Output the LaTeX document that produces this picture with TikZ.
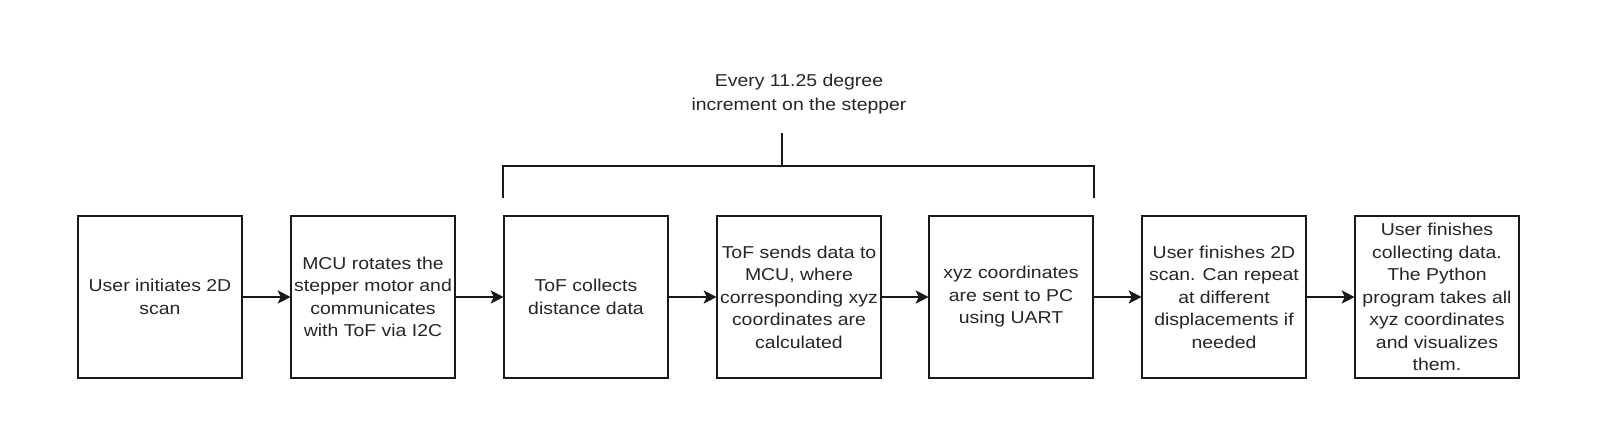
\documentclass[tikz,border=0pt]{standalone}
\usepackage{fontspec}
\setmainfont{Liberation Sans}[FakeStretch=1.13]
\usetikzlibrary{arrows.meta}
\definecolor{ink}{HTML}{1A1A1A}
\definecolor{txt}{HTML}{262626}
\begin{document}
\begin{tikzpicture}[x=1pt,y=-1pt,
  stepbox/.style={draw=ink,line width=1.6pt,minimum width=164pt,minimum height=162pt,
    inner sep=0pt,align=center,text=txt,font=\fontsize{17.2}{22.5}\selectfont},
  flow/.style={draw=ink,line width=1.6pt,shorten >=-0.5pt,-{Stealth[length=13pt,width=13pt,inset=3pt]}},
  brace/.style={draw=ink,line width=1.6pt},
  lbl/.style={align=center,text=txt,font=\fontsize{17.2}{24}\selectfont,inner sep=0pt}]
\useasboundingbox[fill=white] (0,0) rectangle (1598,447);
\node[stepbox] (b1) at (160,297) {User initiates 2D\\scan};
\node[stepbox] (b2) at (373,297) {MCU rotates the\\stepper motor and\\communicates\\with ToF via I2C};
\node[stepbox] (b3) at (586,297) {ToF collects\\distance data};
\node[stepbox] (b4) at (799,297) {ToF sends data to\\MCU, where\\corresponding xyz\\coordinates are\\calculated};
\node[stepbox] (b5) at (1011,297) {xyz coordinates\\are sent to PC\\using UART};
\node[stepbox] (b6) at (1224,297) {User finishes 2D\\scan. Can repeat\\at different\\displacements if\\needed};
\node[stepbox] (b7) at (1437,297) {User finishes\\collecting data.\\The Python\\program takes all\\xyz coordinates\\and visualizes\\them.};
\draw[flow] (b1) -- (b2);
\draw[flow] (b2) -- (b3);
\draw[flow] (b3) -- (b4);
\draw[flow] (b4) -- (b5);
\draw[flow] (b5) -- (b6);
\draw[flow] (b6) -- (b7);
\coordinate (bl) at (b3.west |- 0,198);
\coordinate (br) at (b5.east |- 0,198);
\coordinate (tk) at (782,166);
\coordinate (tt) at (782,133);
\draw[brace] (bl) |- (tk) -| (br);
\draw[brace] (tk) -- (tt);
\node[lbl] (lab) at (799,94) {Every 11.25 degree\\increment on the stepper};
\end{tikzpicture}
\end{document}
